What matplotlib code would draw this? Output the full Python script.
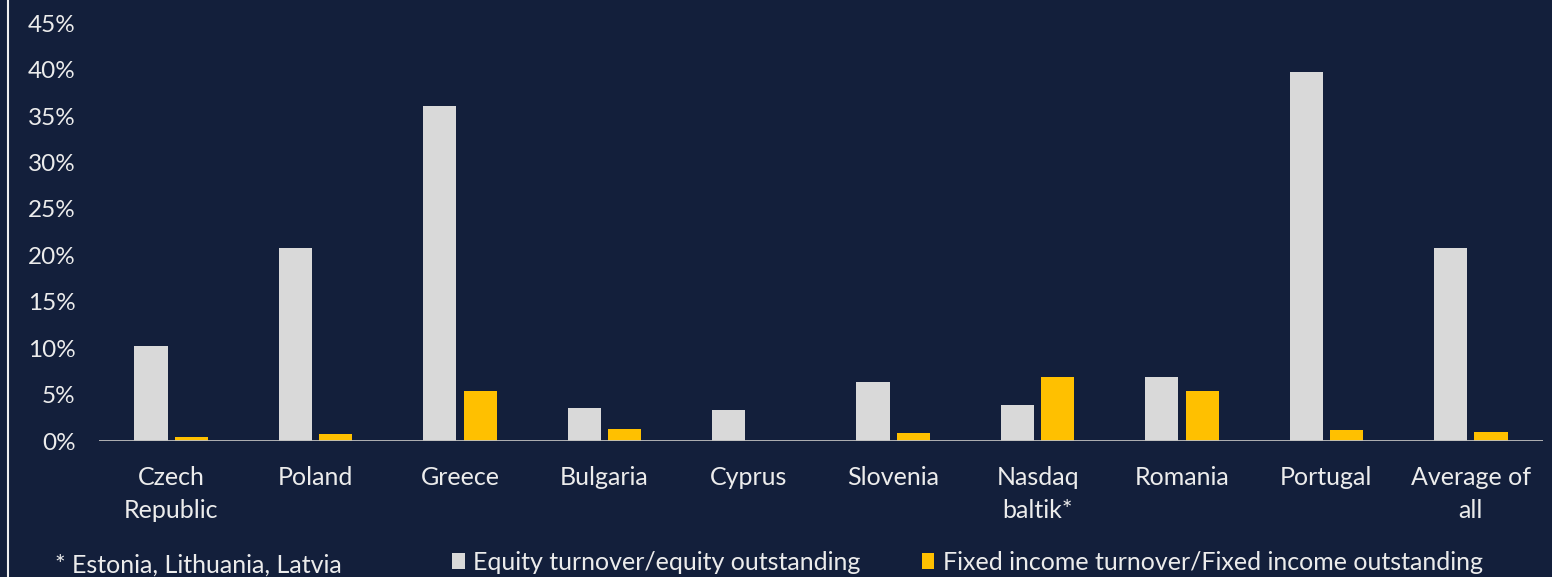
import matplotlib

matplotlib.use("Agg")
import matplotlib.pyplot as plt
import numpy as np

BG = "#131f3b"
GREY = "#d9d9d9"
GOLD = "#ffc000"
TXT = "#ececec"

countries = ["Czech\nRepublic", "Poland", "Greece", "Bulgaria", "Cyprus",
             "Slovenia", "Nasdaq\nbaltik*", "Romania", "Portugal", "Average of\nall"]
equity = [10.2, 20.8, 36.1, 3.6, 3.3, 6.4, 3.9, 6.9, 39.7, 20.8]
fixed_income = [0.4, 0.8, 5.4, 1.3, 0.0, 0.9, 6.9, 5.4, 1.2, 1.0]
yticks = [0, 5, 10, 15, 20, 25, 30, 35, 40, 45]

plt.rcParams["font.family"] = ["Lato", "DejaVu Sans"]

fig = plt.figure(figsize=(15.52, 5.77), dpi=100, facecolor=BG)
ax = fig.add_axes([99 / 1552, 1 - 441 / 577, 1444 / 1552, 441 / 577])
ax.set_facecolor(BG)

x = np.arange(len(countries))
w = 0.23
b1 = ax.bar(x - 0.14, equity, w, color=GREY, label="Equity turnover/equity outstanding", zorder=2)
b2 = ax.bar(x + 0.14, fixed_income, w, color=GOLD,
            label="Fixed income turnover/Fixed income outstanding", zorder=2)
ax.axhline(0, color="#bfbfbf", lw=2, zorder=3)

ax.set_xlim(-0.5, len(countries) - 0.5)
ax.set_ylim(0, 47.5)
ax.set_yticks(yticks)
ax.set_yticklabels([f"{v}%" for v in yticks], fontsize=17.5)
ax.set_xticks(x)
ax.set_xticklabels(countries, linespacing=1.5, fontsize=18)
ax.tick_params(axis="both", length=0, colors=TXT)
ax.tick_params(axis="y", pad=17)
ax.tick_params(axis="x", pad=18)
for s in ax.spines.values():
    s.set_visible(False)

# thin frame line at the far left
fig.add_artist(plt.Line2D([8 / 1552, 8 / 1552], [0, 1], color="#f0f0f0", lw=1.5))

fig.legend(handles=[b1, b2], loc="center left", bbox_to_anchor=(452 / 1552, 1 - 562 / 577),
           ncol=2, frameon=False, fontsize=18, labelcolor=TXT, handlelength=0.5,
           handleheight=0.6, handletextpad=0.35, columnspacing=2.45, borderpad=0,
           borderaxespad=0)
fig.text(55 / 1552, 1 - 565 / 577, "* Estonia, Lithuania, Latvia", color=TXT,
         fontsize=18, va="center", ha="left")

fig.savefig("out.png", dpi=100, facecolor=BG)
